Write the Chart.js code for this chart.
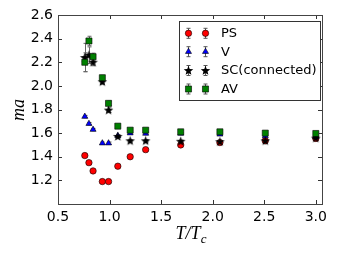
<!DOCTYPE html>
<html><head><meta charset="utf-8">
<script src="https://cdn.jsdelivr.net/npm/chart.js@4/dist/chart.umd.min.js"></script>
<style>html,body{margin:0;padding:0;background:#fff;}canvas{display:block;}</style>
</head><body>
<canvas id="c" width="338" height="254"></canvas>
<script>
// T/Tc values shared by all series
const tOverTc = [0.76, 0.80, 0.84, 0.93, 0.99, 1.08, 1.20, 1.35, 1.69, 2.07, 2.51, 3.00];
const psValues = [1.41, 1.35, 1.28, 1.19, 1.19, 1.32, 1.40, 1.46, 1.50, 1.52, 1.535, 1.555];
const psErrors = [0.01, 0.01, 0.01, 0.01, 0.01, 0.01, 0.01, 0.01, 0.01, 0.01, 0.01, 0.01];
const vValues = [1.74, 1.68, 1.63, 1.515, 1.515, 1.577, 1.60, 1.597, 1.597, 1.59, 1.575, 1.568];
const vErrors = [0.01, 0.01, 0.01, 0.01, 0.01, 0.01, 0.01, 0.01, 0.01, 0.01, 0.01, 0.01];
const scValues = [2.24, 2.26, 2.20, 2.035, 1.795, 1.572, 1.535, 1.535, 1.531, 1.528, 1.535, 1.558];
const scErrors = [0.12, 0.07, 0.03, 0.02, 0.02, 0.01, 0.01, 0.01, 0.01, 0.01, 0.01, 0.01];
const avValues = [2.20, 2.38, 2.247, 2.069, 1.852, 1.659, 1.625, 1.625, 1.611, 1.611, 1.60, 1.597];
const avErrors = [0.08, 0.04, 0.03, 0.02, 0.02, 0.01, 0.01, 0.01, 0.01, 0.01, 0.01, 0.01];
const seriesNames = ['PS', 'V', 'SC(connected)', 'AV'];
const xTickValues = [0.5, 1.0, 1.5, 2.0, 2.5, 3.0];
const yTickValues = [1.2, 1.4, 1.6, 1.8, 2.0, 2.2, 2.4, 2.6];

function starCanvas(){
  const c = document.createElement('canvas'); c.width = 11; c.height = 11;
  const g = c.getContext('2d');
  g.beginPath();
  for (let i = 0; i < 10; i++) {
    const r = i % 2 === 0 ? 5 : 2.1;
    const a = -Math.PI/2 + i*Math.PI/5;
    const px = 5.5 + r*Math.cos(a), py = 5.8 + r*Math.sin(a);
    i === 0 ? g.moveTo(px, py) : g.lineTo(px, py);
  }
  g.closePath(); g.fillStyle = '#000'; g.fill();
  return c;
}
const star = starCanvas();

function pts(vals){ return tOverTc.map((x,i)=>({x:x, y:vals[i]})); }
const styles = [
  {pointStyle:'circle', radius:3.2, color:'#ff0000', err: psErrors, vals: psValues},
  {pointStyle:'triangle', radius:3.5, color:'#0000ff', err: vErrors, vals: vValues},
  {pointStyle: star, radius:5, color:'#000000', err: scErrors, vals: scValues},
  {pointStyle:'rect', radius:4.3, color:'#008000', err: avErrors, vals: avValues}
];

const datasets = styles.map((s,i)=>({
  label: seriesNames[i],
  data: pts(s.vals),
  errors: s.err,
  showLine: false,
  pointStyle: s.pointStyle,
  pointRadius: s.radius,
  pointHoverRadius: s.radius,
  backgroundColor: s.color,
  borderColor: '#000',
  pointBorderWidth: s.pointStyle === star ? 0 : 0.6,
  order: 3 - i
}));

function drawMarker(ctx, s, x, y){
  ctx.save();
  ctx.fillStyle = s.color; ctx.strokeStyle = '#000'; ctx.lineWidth = 0.6;
  const r = s.radius;
  if (s.pointStyle === star) { ctx.drawImage(star, x - 5.5, y - 5.5); ctx.restore(); return; }
  ctx.beginPath();
  if (s.pointStyle === 'circle') ctx.arc(x, y, r, 0, Math.PI*2);
  else if (s.pointStyle === 'triangle') {
    ctx.moveTo(x, y - r);
    ctx.lineTo(x + r*Math.sin(Math.PI*2/3), y - r*Math.cos(Math.PI*2/3));
    ctx.lineTo(x + r*Math.sin(Math.PI*4/3), y - r*Math.cos(Math.PI*4/3));
    ctx.closePath();
  } else { const h = r*Math.SQRT1_2; ctx.rect(x-h, y-h, 2*h, 2*h); }
  ctx.fill(); ctx.stroke();
  ctx.restore();
}

const decor = {
  id: 'decor',
  beforeDatasetsDraw(chart){
    const ctx = chart.ctx, xs = chart.scales.x, ys = chart.scales.y;
    ctx.save();
    ctx.strokeStyle = '#666'; ctx.lineWidth = 1;
    chart.data.datasets.forEach(ds=>{
      ds.data.forEach((p,i)=>{
        const e = ds.errors[i];
        const px = Math.round(xs.getPixelForValue(p.x)) + 0.5;
        const y1 = ys.getPixelForValue(p.y + e), y2 = ys.getPixelForValue(p.y - e);
        ctx.beginPath();
        ctx.moveTo(px, y1); ctx.lineTo(px, y2);
        ctx.moveTo(px-2, y1); ctx.lineTo(px+2, y1);
        ctx.moveTo(px-2, y2); ctx.lineTo(px+2, y2);
        ctx.stroke();
      });
    });
    ctx.restore();
  },
  afterDraw(chart){
    const ctx = chart.ctx, a = chart.chartArea, xs = chart.scales.x, ys = chart.scales.y;
    ctx.save();
    // ticks inward
    ctx.strokeStyle = '#333'; ctx.lineWidth = 1;
    ctx.beginPath();
    xTickValues.forEach(v=>{
      const px = Math.round(xs.getPixelForValue(v)) + 0.5;
      ctx.moveTo(px, a.bottom); ctx.lineTo(px, a.bottom - 4);
      ctx.moveTo(px, a.top); ctx.lineTo(px, a.top + 4);
    });
    yTickValues.forEach(v=>{
      const py = Math.round(ys.getPixelForValue(v)) + 0.5;
      ctx.moveTo(a.left, py); ctx.lineTo(a.left + 4, py);
      ctx.moveTo(a.right, py); ctx.lineTo(a.right - 4, py);
    });
    ctx.stroke();
    // frame
    ctx.strokeStyle = '#444';
    ctx.strokeRect(Math.round(a.left)+0.5, Math.round(a.top)+0.5, Math.round(a.right-a.left), Math.round(a.bottom-a.top));
    // legend
    const lx = 179.5, ly = 21.5, lw = 141, lh = 79;
    ctx.fillStyle = '#fff'; ctx.fillRect(lx, ly, lw, lh);
    ctx.strokeStyle = '#333'; ctx.strokeRect(lx, ly, lw, lh);
    const rows = [33.3, 51.7, 70.5, 89];
    styles.forEach((s,i)=>{
      const y = rows[i];
      [188.5, 205.5].forEach(mx=>{
        ctx.strokeStyle = '#555'; ctx.beginPath();
        ctx.moveTo(mx, y-5); ctx.lineTo(mx, y+5);
        ctx.moveTo(mx-2, y-5); ctx.lineTo(mx+2, y-5);
        ctx.moveTo(mx-2, y+5); ctx.lineTo(mx+2, y+5);
        ctx.stroke();
        drawMarker(ctx, s, mx, y);
      });
      ctx.fillStyle = '#000'; ctx.font = '13px "DejaVu Sans"';
      ctx.textBaseline = 'middle'; ctx.textAlign = 'left';
      ctx.fillText(seriesNames[i], 221, y + 0.5);
    });
    // axis titles
    ctx.fillStyle = '#000';
    ctx.save();
    ctx.translate(19, 110); ctx.rotate(-Math.PI/2);
    ctx.font = 'italic 18px "Liberation Serif"';
    ctx.textAlign = 'center'; ctx.textBaseline = 'middle';
    ctx.fillText('ma', 0, 0);
    ctx.restore();
    ctx.font = 'italic 18px "Liberation Serif"';
    ctx.textAlign = 'left'; ctx.textBaseline = 'alphabetic';
    const main = 'T/T';
    const w1 = ctx.measureText(main).width;
    ctx.font = 'italic 13px "Liberation Serif"';
    const w2 = ctx.measureText('c').width;
    const sx = 191 - (w1 + w2)/2;
    ctx.font = 'italic 18px "Liberation Serif"';
    ctx.fillText(main, sx, 239);
    ctx.font = 'italic 13px "Liberation Serif"';
    ctx.fillText('c', sx + w1, 243);
    ctx.restore();
  }
};

new Chart(document.getElementById('c'), {
  type: 'scatter',
  data: { datasets },
  options: {
    responsive: false, animation: false, devicePixelRatio: 1,
    layout: { padding: { top: 15, right: 16, left: 0, bottom: 0 } },
    plugins: { legend: { display: false }, tooltip: { enabled: false } },
    scales: {
      x: {
        type: 'linear', min: 0.5, max: 3.06,
        afterBuildTicks: s => { s.ticks = xTickValues.map(v=>({value:v})); },
        afterFit: s => { s.height = 50; },
        grid: { display: false, drawTicks: false },
        border: { display: false },
        ticks: { padding: 5, color: '#000', font: { family: 'DejaVu Sans', size: 14 }, maxRotation: 0,
          callback: v => Number(v).toFixed(1) }
      },
      y: {
        type: 'linear', min: 1.0, max: 2.6,
        afterBuildTicks: s => { s.ticks = yTickValues.map(v=>({value:v})); },
        afterFit: s => { s.width = 58; },
        grid: { display: false, drawTicks: false },
        border: { display: false },
        ticks: { padding: 5, color: '#000', font: { family: 'DejaVu Sans', size: 14 },
          callback: v => Number(v).toFixed(1) }
      }
    }
  },
  plugins: [decor]
});
</script>
</body></html>
